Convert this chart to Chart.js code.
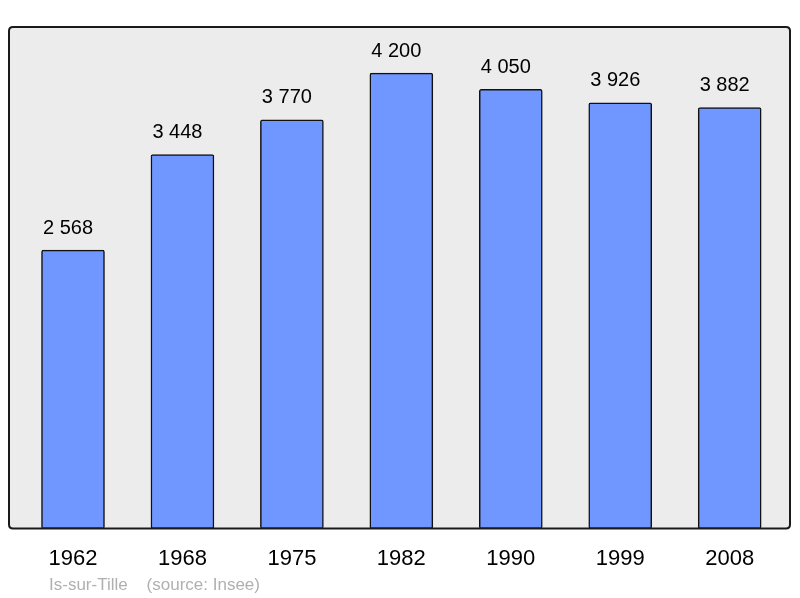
<!DOCTYPE html>
<html><head><meta charset="utf-8">
<script src="https://cdn.jsdelivr.net/npm/chart.js@4/dist/chart.umd.min.js"></script>
<style>html,body{margin:0;padding:0;background:#fff}#wrap{width:800px;height:598px}</style>
</head><body><div id="wrap"><canvas id="c" width="800" height="598"></canvas></div>
<script>
const years = ['1962','1968','1975','1982','1990','1999','2008'];
const population = [2568, 3448, 3770, 4200, 4050, 3926, 3882];
const valueLabels = ['2 568','3 448','3 770','4 200','4 050','3 926','3 882'];
const footerText = 'Is-sur-Tille    (source: Insee)';

const FONT = '"Liberation Sans", Arial, sans-serif';

function roundRect(ctx, x, y, w, h, r) {
  ctx.beginPath();
  ctx.moveTo(x + r, y);
  ctx.lineTo(x + w - r, y);
  ctx.quadraticCurveTo(x + w, y, x + w, y + r);
  ctx.lineTo(x + w, y + h - r);
  ctx.quadraticCurveTo(x + w, y + h, x + w - r, y + h);
  ctx.lineTo(x + r, y + h);
  ctx.quadraticCurveTo(x, y + h, x, y + h - r);
  ctx.lineTo(x, y + r);
  ctx.quadraticCurveTo(x, y, x + r, y);
  ctx.closePath();
}

const framePlugin = {
  id: 'frame',
  beforeDatasetsDraw(chart) {
    const {ctx, chartArea: a} = chart;
    ctx.save();
    roundRect(ctx, a.left, a.top, a.right - a.left, a.bottom - a.top, 4);
    ctx.fillStyle = '#ececec';
    ctx.fill();
    ctx.restore();
  },
  afterDatasetsDraw(chart) {
    const {ctx, chartArea: a} = chart;
    ctx.save();
    roundRect(ctx, a.left, a.top, a.right - a.left, a.bottom - a.top, 4);
    ctx.lineWidth = 2;
    ctx.strokeStyle = '#1a1a1a';
    ctx.stroke();
    // value labels
    const meta = chart.getDatasetMeta(0);
    ctx.fillStyle = '#000';
    ctx.font = '20px ' + FONT;
    ctx.textAlign = 'center';
    ctx.textBaseline = 'middle';
    meta.data.forEach((bar, i) => {
      ctx.fillText(valueLabels[i], bar.x - 5, bar.y - 22);
    });
    // footer
    ctx.fillStyle = '#b0b0b0';
    ctx.font = '17px ' + FONT;
    ctx.textAlign = 'left';
    ctx.textBaseline = 'middle';
    ctx.fillText(footerText, 49, 585);
    ctx.restore();
  }
};

new Chart(document.getElementById('c'), {
  type: 'bar',
  data: {
    datasets: [{
      data: population.map((v, i) => ({x: i, y: v})),
      backgroundColor: '#6f97ff',
      borderColor: '#111',
      borderWidth: 1.5,
      borderRadius: 2,
      borderSkipped: false,
      barThickness: 63
    }]
  },
  options: {
    responsive: false,
    animation: false,
    devicePixelRatio: 1,
    layout: {padding: {left: 9, right: 10, top: 27, bottom: 9}},
    plugins: {legend: {display: false}, tooltip: {enabled: false}},
    scales: {
      x: {
        type: 'linear',
        offset: false,
        min: -0.5847,
        max: 6.551,
        grid: {display: false, drawTicks: false, offset: false},
        border: {display: false},
        afterBuildTicks(scale) { scale.ticks = years.map((_, i) => ({value: i})); },
        ticks: {
          padding: 17,
          color: '#000',
          font: {family: FONT, size: 22},
          maxRotation: 0,
          autoSkip: false,
          callback: (v) => years[v]
        }
      },
      y: {display: false, min: 0, max: 4625}
    }
  },
  plugins: [framePlugin]
});
</script>
</body></html>
